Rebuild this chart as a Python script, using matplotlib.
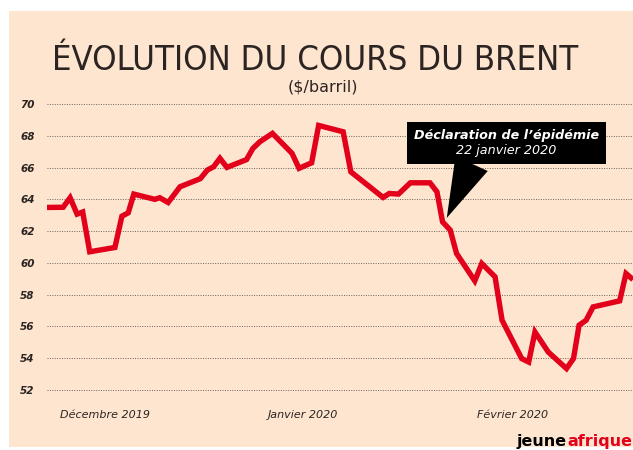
import matplotlib
matplotlib.use("Agg")
import matplotlib.pyplot as plt
from matplotlib.patches import Rectangle
from matplotlib.offsetbox import AnnotationBbox, TextArea, VPacker

# ---------------------------------------------------------------------------
# Brent ($/baril), x = jours depuis le 1er décembre 2019
days = [-3.0, -0.7, 0.3, 1.3, 2.1, 3.1, 6.7, 7.7, 8.6, 9.4,
        12.4, 13.1, 14.3, 16.0, 18.9, 19.9, 20.8, 21.7, 22.7, 25.5,
        26.4, 27.4, 29.2, 32.0, 33.0, 34.8, 35.8, 39.3, 40.4, 45.0,
        45.9, 47.2, 48.9, 51.7, 52.7, 53.5, 54.6, 55.5, 58.1, 59.1,
        61.0, 62.0, 64.8, 65.8, 66.7, 68.6, 71.2, 72.2, 73.0, 74.0,
        75.0, 78.8, 79.7, 80.7]
prices = [63.49, 63.50, 64.10, 63.07, 63.20, 60.70, 60.97, 62.94, 63.15, 64.33,
          64.00, 64.10, 63.80, 64.79, 65.30, 65.84, 66.05, 66.58, 66.01, 66.50,
          67.20, 67.62, 68.15, 66.89, 65.95, 66.30, 68.65, 68.25, 65.73, 64.12,
          64.37, 64.33, 65.04, 65.04, 64.47, 62.58, 62.06, 60.59, 58.87, 59.96,
          59.12, 56.39, 53.98, 53.76, 55.65, 54.39, 53.35, 53.98, 56.08, 56.39,
          57.23, 57.61, 59.33, 58.95]

y_ticks = [52, 54, 56, 58, 60, 62, 64, 66, 68, 70]
month_pos = [-1.1, 28.6, 58.4]
month_labels = ["Décembre 2019", "Janvier 2020", "Février 2020"]

event_day, event_price = 54.1, 62.83
event_text = "Déclaration de l\u2019épidémie"
event_date = "22 janvier 2020"

BG = "#fde5cf"
RED = "#e2001a"
DARK = "#2b2422"

# ---------------------------------------------------------------------------
fig = plt.figure(figsize=(6.33, 4.5), dpi=100)
fig.patch.set_facecolor("white")
fig.patches.append(Rectangle((9 / 633, 3 / 450), 1, 436 / 450,
                             transform=fig.transFigure, facecolor=BG,
                             edgecolor="none", zorder=-5))

ax = fig.add_axes([47 / 633, 0.1156, 586 / 633, 0.671])
ax.set_zorder(2)
ax.patch.set_alpha(0)
ax.set_xlim(-3.0, 80.7)
ax.set_ylim(51.5, 70.5)

for v in y_ticks:
    ax.axhline(v, color="#6b625c", lw=0.7, ls=(0, (1, 1.5)), zorder=1)

ax.plot(days, prices, color=RED, lw=3.9, solid_joinstyle="miter",
        solid_capstyle="butt", zorder=3)

ax.set_yticks(y_ticks)
ax.set_yticklabels([str(v) for v in y_ticks], fontstyle="italic",
                   fontweight="bold", fontsize=7.5, color=DARK)
ax.tick_params(axis="y", length=0, pad=9)
ax.set_xticks([])
for sp in ax.spines.values():
    sp.set_visible(False)

for x, lab in zip(month_pos, month_labels):
    ax.text(x, 50.4, lab, ha="left", va="center", fontsize=8,
            fontstyle="italic", color=DARK)

# Annotation épidémie : boîte noire (2 lignes) + pointe
l1 = TextArea(event_text, textprops=dict(color="white", fontsize=9.2,
                                         fontstyle="italic", fontweight="bold"))
l2 = TextArea(event_date, textprops=dict(color="white", fontsize=9.2,
                                         fontstyle="italic"))
pack = VPacker(children=[l1, l2], align="center", pad=0, sep=1)
ab = AnnotationBbox(pack, (event_day, event_price), xybox=(62.6, 67.55),
                    xycoords="data", boxcoords="data", fontsize=9.2,
                    bboxprops=dict(boxstyle="square,pad=0.55", fc="black",
                                   ec="none"),
                    arrowprops=dict(arrowstyle="wedge,tail_width=2.0,shrink_factor=0.5",
                                    fc="black", ec="none", shrinkA=0, shrinkB=0,
                                    relpos=(0.33, 0.0)),
                    zorder=5)
ax.add_artist(ab)

# Titre
fig.text(315 / 633, 1 - 70 / 450, "ÉVOLUTION DU COURS DU BRENT",
         ha="center", va="baseline", fontsize=24.8, color=DARK,
         family="DejaVu Sans", fontstretch="condensed", fontweight="light")
fig.text(323 / 633, 1 - 92 / 450, "($/barril)", ha="center", va="baseline",
         fontsize=11.5, color=DARK)

# Logo
fig.text(567 / 633, 1 - 446 / 450, "jeune", ha="right", va="baseline",
         fontsize=11.5, fontweight="bold", color="black")
fig.text(567 / 633, 1 - 446 / 450, "afrique", ha="left", va="baseline",
         fontsize=11.5, fontweight="bold", color=RED)

fig.savefig("out.png", dpi=100, facecolor=fig.get_facecolor())
